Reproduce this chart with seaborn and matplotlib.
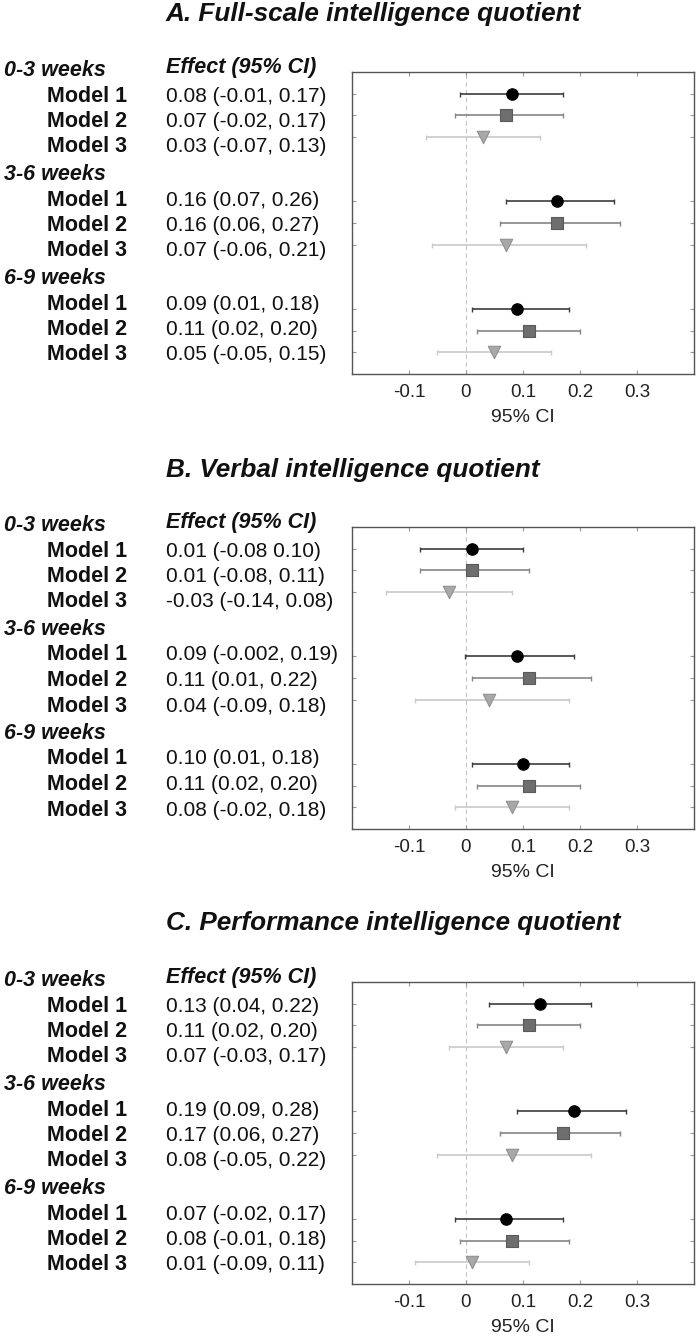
import matplotlib
matplotlib.use("Agg")
import matplotlib.pyplot as plt
import seaborn as sns
import pandas as pd

# Chart data
periods = ['0-3 weeks', '3-6 weeks', '6-9 weeks']
models = ['Model 1', 'Model 2', 'Model 3']
titles = ['A. Full-scale intelligence quotient',
          'B. Verbal intelligence quotient',
          'C. Performance intelligence quotient']

fsiq_est = [0.08, 0.07, 0.03, 0.16, 0.16, 0.07, 0.09, 0.11, 0.05]
fsiq_lo = [-0.01, -0.02, -0.07, 0.07, 0.06, -0.06, 0.01, 0.02, -0.05]
fsiq_hi = [0.17, 0.17, 0.13, 0.26, 0.27, 0.21, 0.18, 0.20, 0.15]
fsiq_txt = ['0.08 (-0.01, 0.17)', '0.07 (-0.02, 0.17)', '0.03 (-0.07, 0.13)',
            '0.16 (0.07, 0.26)', '0.16 (0.06, 0.27)', '0.07 (-0.06, 0.21)',
            '0.09 (0.01, 0.18)', '0.11 (0.02, 0.20)', '0.05 (-0.05, 0.15)']

viq_est = [0.01, 0.01, -0.03, 0.09, 0.11, 0.04, 0.10, 0.11, 0.08]
viq_lo = [-0.08, -0.08, -0.14, -0.002, 0.01, -0.09, 0.01, 0.02, -0.02]
viq_hi = [0.10, 0.11, 0.08, 0.19, 0.22, 0.18, 0.18, 0.20, 0.18]
viq_txt = ['0.01 (-0.08 0.10)', '0.01 (-0.08, 0.11)', '-0.03 (-0.14, 0.08)',
           '0.09 (-0.002, 0.19)', '0.11 (0.01, 0.22)', '0.04 (-0.09, 0.18)',
           '0.10 (0.01, 0.18)', '0.11 (0.02, 0.20)', '0.08 (-0.02, 0.18)']

piq_est = [0.13, 0.11, 0.07, 0.19, 0.17, 0.08, 0.07, 0.08, 0.01]
piq_lo = [0.04, 0.02, -0.03, 0.09, 0.06, -0.05, -0.02, -0.01, -0.09]
piq_hi = [0.22, 0.20, 0.17, 0.28, 0.27, 0.22, 0.17, 0.18, 0.11]
piq_txt = ['0.13 (0.04, 0.22)', '0.11 (0.02, 0.20)', '0.07 (-0.03, 0.17)',
           '0.19 (0.09, 0.28)', '0.17 (0.06, 0.27)', '0.08 (-0.05, 0.22)',
           '0.07 (-0.02, 0.17)', '0.08 (-0.01, 0.18)', '0.01 (-0.09, 0.11)']

xticks = [-0.1, 0, 0.1, 0.2, 0.3]
xticklabels = ['-0.1', '0', '0.1', '0.2', '0.3']

# styling per model
line_colors = {'Model 1': '#3c3c3c', 'Model 2': '#858585', 'Model 3': '#cacaca'}
fill_colors = {'Model 1': '#000000', 'Model 2': '#6e6e6e', 'Model 3': '#a8a8a8'}
edge_colors = {'Model 1': '#000000', 'Model 2': '#5a5a5a', 'Model 3': '#909090'}
marker_map = {'Model 1': 'o', 'Model 2': 's', 'Model 3': 'v'}
marker_size = {'Model 1': 68, 'Model 2': 70, 'Model 3': 80}

sns.set_theme(style='white')
plt.rcParams['font.family'] = ['Liberation Sans', 'DejaVu Sans']

W, H = 697, 1341
fig = plt.figure(figsize=(W / 100, H / 100), dpi=100)

axes_tops = [72, 527, 982]
ax_left, ax_w, ax_h = 352, 342, 302

panels = [(fsiq_est, fsiq_lo, fsiq_hi, fsiq_txt),
          (viq_est, viq_lo, viq_hi, viq_txt),
          (piq_est, piq_lo, piq_hi, piq_txt)]
title_y = [14, 470, 923]

for i, (est, lo, hi, txt) in enumerate(panels):
    top = axes_tops[i]
    ax = fig.add_axes([ax_left / W, 1 - (top + ax_h) / H, ax_w / W, ax_h / H])

    rows = [g * 5 + m for g in range(3) for m in range(3)]
    df = pd.DataFrame({'row': rows, 'est': est, 'lo': lo, 'hi': hi,
                       'model': models * 3, 'label': txt})

    ax.axvline(0, color='#c4c4c4', ls=(0, (4, 3)), lw=0.8, zorder=0)
    for m in models:
        sub = df[df['model'] == m]
        xerr = [sub['est'] - sub['lo'], sub['hi'] - sub['est']]
        ax.errorbar(sub['est'], sub['row'], xerr=xerr, fmt='none',
                    ecolor=line_colors[m], elinewidth=1.2, capsize=1.8,
                    capthick=1.0, zorder=2)
        sns.scatterplot(data=sub, x='est', y='row', marker=marker_map[m],
                        color=fill_colors[m], edgecolor=edge_colors[m],
                        linewidth=0.8, s=marker_size[m], ax=ax, zorder=3,
                        legend=False)

    ax.set_xlim(-0.2, 0.4)
    ax.set_ylim(13, -1)
    ax.set_yticks(rows)
    ax.set_yticklabels([])
    ax.set_xticks(xticks)
    ax.set_xticklabels(xticklabels, fontsize=13.5, color='#222222')
    ax.tick_params(axis='both', direction='in', length=3, width=0.8,
                   color='#999999', top=True, right=True, bottom=True, left=True)
    ax.tick_params(axis='x', pad=7)
    ax.set_xlabel('95% CI', fontsize=14, color='#222222', labelpad=6)
    ax.set_ylabel('')
    for sp in ax.spines.values():
        sp.set_color('#555555')
        sp.set_linewidth(1.0)

    # title
    fig.text(166 / W, 1 - title_y[i] / H, titles[i], fontsize=18.8,
             fontweight='bold', fontstyle='italic', ha='left', va='center',
             color='#111111')

    # left-hand text table (baselines in pixels below the axes top)
    fig.text(166 / W, 1 - (top + 1) / H, 'Effect (95% CI)',
             fontsize=15.5, fontweight='bold', fontstyle='italic',
             ha='left', va='baseline', color='#111111')
    for g, period in enumerate(periods):
        fig.text(4 / W, 1 - (top + 4 + g * 104) / H, period,
                 fontsize=15.5, fontweight='bold', fontstyle='italic',
                 ha='left', va='baseline', color='#111111')
        for k, m in enumerate(models):
            ypx = top + 29.5 + g * 104 + k * 25.5
            fig.text(47 / W, 1 - ypx / H, m, fontsize=15.5, fontweight='bold',
                     ha='left', va='baseline', color='#111111')
            fig.text(166 / W, 1 - ypx / H, df['label'].iloc[g * 3 + k],
                     fontsize=15, ha='left', va='baseline', color='#111111')

fig.savefig('out.png', dpi=100)
